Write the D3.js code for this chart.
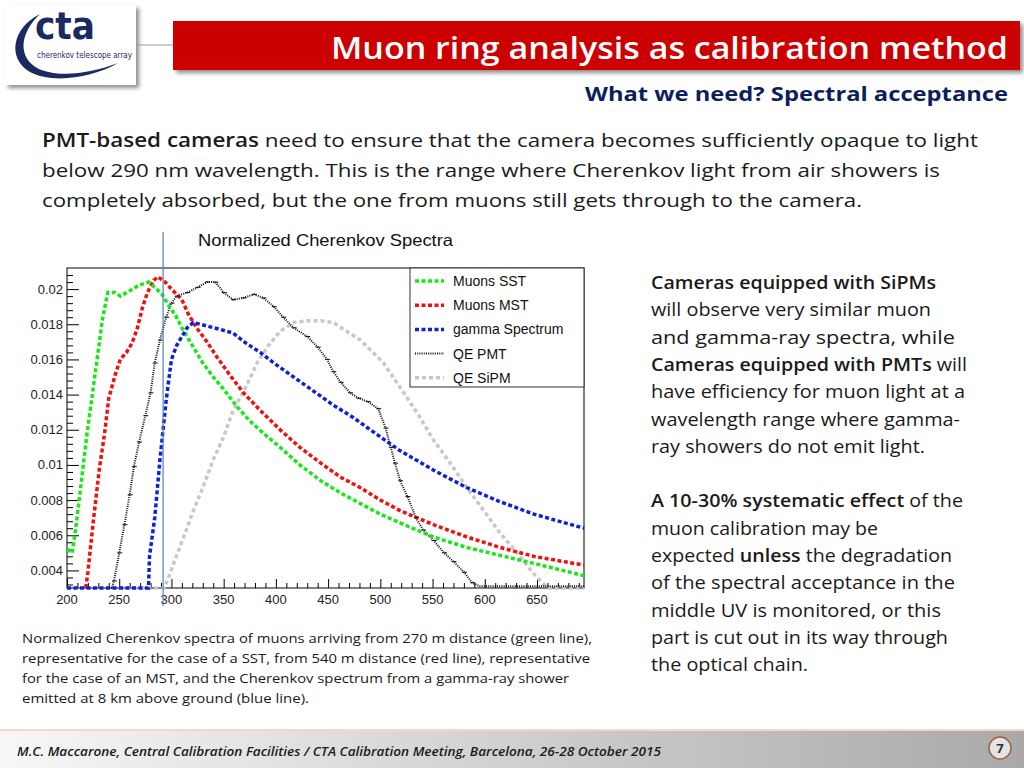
<!DOCTYPE html>
<html>
<head>
<meta charset="utf-8">
<script src="https://cdn.jsdelivr.net/npm/d3@7"></script>
<style>
  body { margin: 0; background: #fff; }
  svg { display: block; }
</style>
</head>
<body>
<div class="canva"><svg width="1024" height="768"></svg></div>
<script>
// spectra (wavelength nm, normalized value); 0 = below axis minimum
var sstWl  = [200,205,209,214,219,224,229,234,239,246,251,257,263,268,278,284,291,297,304,310,316,323,330,340,350,363,375,388,404,423,443,462,481,500,519,551,583,615,647,695];
var sstVal = [0.0052,0.0050,0.0067,0.0092,0.0117,0.0139,0.0161,0.0183,0.0198,0.0198,0.0196,0.0198,0.0200,0.0202,0.0204,0.0201,0.0197,0.0191,0.0185,0.0178,0.0172,0.0165,0.0158,0.0150,0.0143,0.0133,0.0125,0.0118,0.0110,0.0100,0.0091,0.0084,0.0078,0.0072,0.0067,0.0059,0.0053,0.00485,0.0044,0.0037];

var mstWl  = [218,220,225,231,236,240,246,251,257,262,267,272,277,283,287,294,300,305,310,316,324,334,344,356,369,385,404,423,443,462,481,500,519,551,583,615,647,695];
var mstVal = [0,0.0039,0.0067,0.0098,0.0118,0.0138,0.0151,0.0160,0.0164,0.0169,0.0177,0.0189,0.0198,0.0205,0.0207,0.0204,0.0200,0.0197,0.0194,0.0186,0.0178,0.0170,0.0161,0.0151,0.0141,0.0131,0.0120,0.0110,0.0101,0.0093,0.0087,0.0080,0.0074,0.0066,0.0059,0.0053,0.0048,0.0043];

var gamWl  = [200,278,279,284,289,295,300,305,310,315,321,334,347,359,372,385,398,417,436,455,474,488,519,551,583,615,647,695];
var gamVal = [0,0,0.0048,0.0070,0.0103,0.0137,0.0160,0.0168,0.0173,0.0178,0.0181,0.0179,0.0177,0.0175,0.0169,0.0164,0.0158,0.0150,0.0142,0.0134,0.0127,0.0121,0.0108,0.0097,0.0087,0.0079,0.0072,0.0064];

var pmtWl  = [240,243,245,250,255,260,264,269,275,280,284,289,295,300,305,315,325,334,342,350,359,369,379,388,398,407,417,430,440,449,455,462,471,479,488,498,505,510,514,519,526,534,541,551,561,570,580,588,595,610,625,640,655,670,685,695];
var pmtVal = [0,0,0.0034,0.0050,0.0066,0.0083,0.0099,0.0113,0.0128,0.0141,0.0158,0.0171,0.0184,0.0192,0.0196,0.0198,0.0201,0.0204,0.0204,0.0198,0.0194,0.0195,0.0197,0.0195,0.0190,0.0184,0.0178,0.0173,0.0167,0.0160,0.0153,0.0147,0.0141,0.0138,0.0136,0.0132,0.0121,0.0110,0.0101,0.0091,0.0082,0.0070,0.0063,0.0057,0.0050,0.0045,0.0039,0.0033,0.0031,0.0031,0.0031,0.0031,0.0031,0.0031,0.0031,0.0031];

var sipmWl  = [250,293,296,304,313,321,330,340,350,359,371,382,393,404,417,430,443,455,465,481,503,519,536,551,567,583,599,615,631,647,660,695];
var sipmVal = [0,0,0.0034,0.0047,0.0061,0.0074,0.0087,0.0103,0.0116,0.0131,0.0144,0.0158,0.0168,0.0176,0.0181,0.0182,0.0182,0.0181,0.0177,0.0171,0.0158,0.0144,0.0129,0.0114,0.0101,0.0087,0.0074,0.0061,0.0050,0.0038,0.0030,0];

var xTicks = [200,250,300,350,400,450,500,550,600,650];
var yTicks = [0.004,0.006,0.008,0.01,0.012,0.014,0.016,0.018,0.02];
var legendNames = ["Muons SST","Muons MST","gamma Spectrum","QE PMT","QE SiPM"];

const svg = d3.select(".canva").select("svg");
const body = "'Open Sans', sans-serif";
const arial = "'Liberation Sans', Arial, sans-serif";

var defs = svg.append("defs");
var sh = defs.append("filter").attr("id","shadow").attr("x","-10%").attr("y","-10%").attr("width","130%").attr("height","140%");
sh.append("feDropShadow").attr("dx",3).attr("dy",3).attr("stdDeviation",2).attr("flood-color","#000").attr("flood-opacity",0.45);
var fg = defs.append("linearGradient").attr("id","foot").attr("x1","0").attr("x2","1");
fg.append("stop").attr("offset","0").attr("stop-color","#f7f7f7");
fg.append("stop").attr("offset","1").attr("stop-color","#a9a9a9");

// draws one line of text made of [string, bold] parts, squeezed to a width
function textLine(x, y, parts, size, width, color, anchor, italic, boldW) {
  var t = svg.append("text")
    .attr("x", x).attr("y", y)
    .attr("font-family", body)
    .attr("font-size", size)
    .attr("fill", color)
    .attr("text-anchor", anchor || "start");
  if (italic) t.attr("font-style","italic");
  parts.forEach(function (p) {
    t.append("tspan").text(p[0]).attr("font-weight", p[1] ? (boldW || 700) : 400);
  });
  if (width) t.attr("textLength", width).attr("lengthAdjust", "spacingAndGlyphs");
  return t;
}

// ---- logo
svg.append("rect").attr("x",5).attr("y",5).attr("width",131).attr("height",80)
  .attr("fill","#fff").attr("filter","url(#shadow)");
svg.append("path")
  .attr("d","M40,14 C13,27 6,58 30,72 C52,84 92,78 118,63 C90,74 56,78 37,68 C18,57 19,34 40,14 Z")
  .attr("fill","#1b2a63");
svg.append("text").text("cta").attr("x",35).attr("y",39)
  .attr("font-family","'DejaVu Sans', sans-serif").attr("font-weight",700)
  .attr("font-size",37).attr("fill","#1b2a63").attr("textLength",60).attr("lengthAdjust","spacingAndGlyphs");
svg.append("text").text("cherenkov telescope array").attr("x",37).attr("y",58)
  .attr("font-family","'DejaVu Sans Condensed', 'DejaVu Sans', sans-serif")
  .attr("font-size",9).attr("fill","#1b2a63").attr("textLength",95).attr("lengthAdjust","spacingAndGlyphs");
svg.append("line").attr("x1",137).attr("x2",173).attr("y1",45).attr("y2",45)
  .attr("stroke","#9a9a9a").attr("stroke-width",1);

// ---- title bar
svg.append("rect").attr("x",173).attr("y",21).attr("width",847).attr("height",49)
  .attr("fill","#cc0000").attr("filter","url(#shadow)");
textLine(1008, 59, [["Muon ring analysis as calibration method", true]], 31, 677, "#fff", "end", false, 600);
textLine(1008, 101, [["What we need? Spectral acceptance", true]], 20, 423, "#0a1f5c", "end");

// ---- body paragraph
textLine(42, 147, [["PMT-based cameras", true], ["  need to ensure that the camera becomes sufficiently opaque to light", false]], 19, 936, "#1a1a1a", "start", false, 600);
textLine(42, 177, [["below 290 nm wavelength. This is the range where Cherenkov light from air showers is", false]], 19, 898, "#1a1a1a");
textLine(42, 207, [["completely absorbed, but the one from muons still gets through to the camera.", false]], 19, 820, "#1a1a1a");

// ---- right column
var rightLines = [
  [[["Cameras equipped with SiPMs", true]], 285],
  [[["will observe very similar muon", false]], 280],
  [[["and gamma-ray spectra, while", false]], 304],
  [[["Cameras equipped with PMTs", true], [" will", false]], 316],
  [[["have efficiency for muon light at a", false]], 314],
  [[["wavelength range where gamma-", false]], 309],
  [[["ray showers do not emit light.", false]], 274],
  null,
  [[["A 10-30% systematic effect", true], [" of the", false]], 312],
  [[["muon calibration may be", false]], 227],
  [[["expected ", false], ["unless", true], [" the degradation", false]], 301],
  [[["of the spectral acceptance in the", false]], 304],
  [[["middle UV is monitored, or this", false]], 290],
  [[["part is cut out in its way through", false]], 297],
  [[["the optical chain.", false]], 157]
];
rightLines.forEach(function (l, i) {
  if (!l) return;
  textLine(651, 289 + i * 27.3, l[0], 17.5, l[1], "#1a1a1a", "start", false, 600);
});

// ---- caption
var caption = [
  ["Normalized Cherenkov spectra of muons arriving from 270 m distance (green line),", 570],
  ["representative for the case of a SST, from 540 m distance (red line), representative", 568],
  ["for the case of an MST, and the Cherenkov spectrum from a gamma-ray shower", 547],
  ["emitted at 8 km above ground (blue line).", 287]
];
caption.forEach(function (c, i) {
  textLine(22, 643 + i * 20, [[c[0], false]], 13, c[1], "#1a1a1a");
});

// ---- footer
svg.append("rect").attr("x",0).attr("y",731).attr("width",1024).attr("height",37).attr("fill","url(#foot)");
svg.append("line").attr("x1",0).attr("x2",1024).attr("y1",730).attr("y2",730).attr("stroke","#f2d8c8").attr("stroke-width",2);
textLine(17, 756, [["M.C. Maccarone, Central Calibration Facilities / CTA Calibration Meeting, Barcelona, 26-28 October 2015", true]], 12.5, 644, "#1a1a1a", "start", true, 600);
svg.append("circle").attr("cx",1000).attr("cy",748).attr("r",11).attr("fill","#e4e4e4").attr("stroke","#a0643c").attr("stroke-width",1.5);
svg.append("text").text("7").attr("x",1000).attr("y",753).attr("text-anchor","middle")
  .attr("font-family",body).attr("font-weight",700).attr("font-size",13).attr("fill","#333");

// ---- chart
var x = d3.scaleLinear().domain([200, 695]).range([67, 584]);
var y = d3.scaleLinear().domain([0.003, 0.0212]).range([588, 268]).clamp(true);

var chart = svg.append("g");

svg.append("text").text("Normalized Cherenkov Spectra").attr("x",198).attr("y",246)
  .attr("font-family",arial).attr("font-size",16.5).attr("fill","#111")
  .attr("textLength",255).attr("lengthAdjust","spacingAndGlyphs");

// frame
chart.append("rect").attr("x",67).attr("y",268).attr("width",517).attr("height",320)
  .attr("fill","none").attr("stroke","#000").attr("stroke-width",1);

// x axis: ticks pointing inside
var xAxis = d3.axisTop(x).tickValues(xTicks).tickSize(9).tickFormat("");
chart.append("g").attr("transform","translate(0,588)").call(xAxis)
  .call(g => g.select(".domain").remove());
var xMinor = d3.axisTop(x).tickValues(d3.range(210, 695, 10).filter(v => v % 50 != 0)).tickSize(5).tickFormat("");
chart.append("g").attr("transform","translate(0,588)").call(xMinor)
  .call(g => g.select(".domain").remove());
chart.selectAll("text.xl").data(xTicks).enter().append("text").attr("class","xl")
  .attr("x", d => x(d)).attr("y", 604).attr("text-anchor","middle")
  .attr("font-family",arial).attr("font-size",13).attr("fill","#222").text(d => d);

// y axis
var yAxis = d3.axisRight(y).tickValues(yTicks).tickSize(12).tickFormat("");
chart.append("g").attr("transform","translate(67,0)").call(yAxis)
  .call(g => g.select(".domain").remove());
var yMinor = d3.axisRight(y).tickValues(d3.range(0.0032, 0.0212, 0.0004).filter(v => Math.abs(v / 0.002 - Math.round(v / 0.002)) > 0.01)).tickSize(6).tickFormat("");
chart.append("g").attr("transform","translate(67,0)").call(yMinor)
  .call(g => g.select(".domain").remove());
chart.selectAll("text.yl").data(yTicks).enter().append("text").attr("class","yl")
  .attr("x", 63).attr("y", d => y(d) + 4.5).attr("text-anchor","end")
  .attr("font-family",arial).attr("font-size",13).attr("fill","#222").text(d => d);
chart.selectAll(".tick line").attr("stroke","#000");

// curves
var line = d3.line().x(d => x(d[0])).y(d => y(d[1]));
function pairs(w, v) { return w.map((d, i) => [d, v[i]]); }

var series = [
  {name: "QE SiPM", data: pairs(sipmWl, sipmVal), color: "#c8c8c8", w: 3.5, dash: "4,3"},
  {name: "QE PMT", data: pairs(pmtWl, pmtVal), color: "#111", w: 2, dash: "1,1.2"},
  {name: "Muons MST", data: pairs(mstWl, mstVal), color: "#f01010", w: 3.5, dash: "4,2.5"},
  {name: "Muons SST", data: pairs(sstWl, sstVal), color: "#18e818", w: 3.5, dash: "4,2.5"},
  {name: "gamma Spectrum", data: pairs(gamWl, gamVal), color: "#1020d8", w: 3.5, dash: "4,2.5"}
];
chart.selectAll("path.curve").data(series).enter().append("path").attr("class","curve")
  .attr("d", d => line(d.data))
  .attr("fill","none")
  .attr("stroke", d => d.color)
  .attr("stroke-width", d => d.w)
  .attr("stroke-dasharray", d => d.dash);

// small bin markers on the PMT histogram
chart.selectAll("line.pmt").data(pairs(pmtWl, pmtVal).filter(d => d[1] > 0.0031)).enter().append("line").attr("class","pmt")
  .attr("x1", d => x(d[0]) - 2).attr("x2", d => x(d[0]) + 3)
  .attr("y1", d => y(d[1])).attr("y2", d => y(d[1]))
  .attr("stroke","#111").attr("stroke-width",1);

// blue guide line at ~292 nm
svg.append("line").attr("x1", x(292)).attr("x2", x(292)).attr("y1",232).attr("y2",606)
  .attr("stroke","#4f81bd").attr("stroke-width",1.2);

// legend
var lg = chart.append("g");
lg.append("rect").attr("x",410).attr("y",268).attr("width",174).attr("height",119)
  .attr("fill","#fff").attr("stroke","#333").attr("stroke-width",1);
var legendItems = legendNames.map(n => series.find(s => s.name == n));
legendItems.forEach(function (s, i) {
  var ly = 281 + i * 24.2;
  lg.append("line").attr("x1",415).attr("x2",444).attr("y1",ly).attr("y2",ly)
    .attr("stroke", s.color).attr("stroke-width", s.w).attr("stroke-dasharray", s.dash);
  lg.append("text").text(s.name).attr("x",453).attr("y",ly + 5)
    .attr("font-family",arial).attr("font-size",14).attr("fill","#111");
});
</script>
</body>
</html>
